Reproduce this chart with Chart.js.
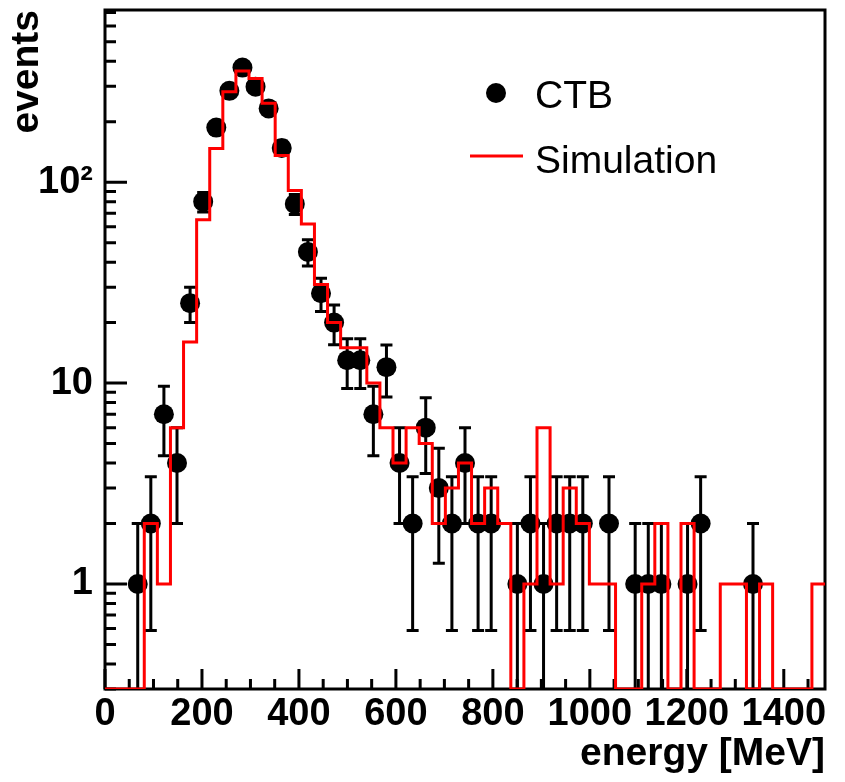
<!DOCTYPE html>
<html>
<head>
<meta charset="utf-8">
<script src="https://cdn.jsdelivr.net/npm/chart.js@4.4.1/dist/chart.umd.min.js"></script>
<style>
  html, body { margin: 0; padding: 0; background: #fff; }
  #wrap { width: 845px; height: 782px; }
</style>
</head>
<body>
<div id="wrap"><canvas id="energy" width="845" height="782"></canvas></div>
<script>
// 55 bins of 27 MeV each
const BIN_WIDTH = 27;
const X_MAX = 1485;
const Y_MIN = 0.3;
const Y_MAX = 720;

// CTB events per bin
const ctbCounts = [0,0,1,2,7,4,25,80,187,285,
                   372,299,233,148,78,45,28,20,13,13,
                   7,12,4,2,6,3,2,4,2,2,
                   0,1,2,1,2,2,2,0,2,0,
                   1,1,1,0,1,2,0,0,0,1,
                   0,0,0,0,0];
// simulated events per bin
const simCounts = [0,0,0,2,1,6,16,65,147,282,
                   358,328,247,136,91,62,31,20,15,15,
                   10,6,4,6,5,2,3,4,2,3,
                   2,0,1,6,1,3,2,1,1,0,
                   0,1,2,0,2,0,0,1,1,0,
                   1,0,0,0,1];

const xTicks = [0, 200, 400, 600, 800, 1000, 1200, 1400];
const yTicks = [1, 10, 100];
const yTickLabels = ['1', '10', '10²'];

const FONT = 'Liberation Sans';

// histogram outline: one point on each bin's left edge, plus the right edge
const simLine = simCounts.map((n, i) => ({x: i * BIN_WIDTH, y: n > 0 ? n : Y_MIN}));
simLine.push({x: X_MAX, y: simLine[simLine.length - 1].y});

const ctbPoints = [];
ctbCounts.forEach((n, i) => {
  if (n > 0) ctbPoints.push({x: (i + 0.5) * BIN_WIDTH, y: n});
});

// minor tick positions
const xMinor = [];
for (let v = 50; v < X_MAX; v += 50) if (v % 200 !== 0) xMinor.push(v);
const yMinor = [];
[0.1, 1, 10, 100].forEach(d => {
  for (let k = 2; k <= 9; k++) {
    const v = d * k;
    if (v > Y_MIN && v < Y_MAX) yMinor.push(v);
  }
});

const frameTicks = {
  id: 'frameTicks',
  beforeDatasetsDraw(chart) {
    const {ctx, chartArea: a, scales: {x, y}} = chart;
    ctx.save();
    ctx.strokeStyle = '#000';
    ctx.lineWidth = 3;
    ctx.strokeRect(a.left, a.top, a.right - a.left, a.bottom - a.top);
    ctx.beginPath();
    xTicks.forEach(v => {
      const px = x.getPixelForValue(v);
      ctx.moveTo(px, a.bottom); ctx.lineTo(px, a.bottom - 20);
    });
    xMinor.forEach(v => {
      const px = x.getPixelForValue(v);
      ctx.moveTo(px, a.bottom); ctx.lineTo(px, a.bottom - 10);
    });
    yTicks.forEach(v => {
      const py = y.getPixelForValue(v);
      ctx.moveTo(a.left, py); ctx.lineTo(a.left + 22, py);
    });
    yMinor.forEach(v => {
      const py = y.getPixelForValue(v);
      ctx.moveTo(a.left, py); ctx.lineTo(a.left + 11, py);
    });
    ctx.stroke();
    ctx.restore();
  }
};

const errorBars = {
  id: 'errorBars',
  beforeDatasetDraw(chart, args) {
    if (args.index !== 1) return;
    const {ctx, chartArea: a, scales: {x, y}} = chart;
    ctx.save();
    ctx.beginPath();
    ctx.rect(a.left, a.top, a.right - a.left, a.bottom - a.top);
    ctx.clip();
    ctx.strokeStyle = '#000';
    ctx.lineWidth = 3;
    ctx.beginPath();
    chart.data.datasets[1].data.forEach(p => {
      const err = Math.sqrt(p.y);
      const px = x.getPixelForValue(p.x);
      const yHi = y.getPixelForValue(p.y + err);
      const lo = p.y - err;
      const yLo = lo > 0 ? y.getPixelForValue(lo) : a.bottom + 20;
      ctx.moveTo(px, yHi); ctx.lineTo(px, yLo);
      ctx.moveTo(px - 6, yHi); ctx.lineTo(px + 6, yHi);
      if (lo > 0) { ctx.moveTo(px - 6, yLo); ctx.lineTo(px + 6, yLo); }
    });
    ctx.stroke();
    ctx.restore();
  }
};

const boxLegend = {
  id: 'boxLegend',
  afterDraw(chart) {
    const ctx = chart.ctx;
    const sets = chart.data.datasets;
    ctx.save();
    ctx.font = '39px "' + FONT + '"';
    ctx.fillStyle = '#000';
    ctx.textBaseline = 'alphabetic';
    ctx.beginPath();
    ctx.arc(496, 93, 10, 0, Math.PI * 2);
    ctx.fill();
    ctx.fillText(sets[1].label, 535, 108);
    ctx.strokeStyle = '#ff0000';
    ctx.lineWidth = 3;
    ctx.beginPath();
    ctx.moveTo(470, 156); ctx.lineTo(523, 156);
    ctx.stroke();
    ctx.fillText(sets[0].label, 535, 173);
    ctx.restore();
  }
};

new Chart(document.getElementById('energy'), {
  data: {
    datasets: [
      {
        type: 'line',
        label: 'Simulation',
        data: simLine,
        stepped: true,
        borderColor: '#ff0000',
        borderWidth: 3,
        pointRadius: 0,
        fill: false
      },
      {
        type: 'scatter',
        label: 'CTB',
        data: ctbPoints,
        pointRadius: 10,
        pointBorderWidth: 0,
        backgroundColor: '#000',
        borderColor: '#000'
      }
    ]
  },
  options: {
    responsive: false,
    animation: false,
    layout: {padding: {top: 7, right: 20, left: 0, bottom: 0}},
    plugins: {legend: {display: false}, tooltip: {enabled: false}},
    scales: {
      x: {
        type: 'linear',
        min: 0,
        max: X_MAX,
        grid: {display: false, drawTicks: false},
        border: {display: false},
        afterBuildTicks: s => { s.ticks = xTicks.map(v => ({value: v})); },
        afterFit: s => { s.height = 93; s.paddingLeft = 0; s.paddingRight = 0; },
        ticks: {
          autoSkip: false,
          maxRotation: 0,
          padding: 3,
          color: '#000',
          font: {family: FONT, weight: 'bold', size: 38},
          callback: v => String(v)
        },
        title: {
          display: true,
          text: 'energy [MeV]',
          align: 'end',
          color: '#000',
          font: {family: FONT, weight: 'bold', size: 39},
          padding: {top: 0, bottom: 4}
        }
      },
      y: {
        type: 'logarithmic',
        min: Y_MIN,
        max: Y_MAX,
        grid: {display: false, drawTicks: false},
        border: {display: false},
        afterBuildTicks: s => { s.ticks = yTicks.map(v => ({value: v})); },
        afterFit: s => { s.width = 105; s.paddingTop = 0; s.paddingBottom = 0; },
        ticks: {
          padding: 12,
          color: '#000',
          font: {family: FONT, weight: 'bold', size: 38},
          callback: (v, i) => yTickLabels[i]
        },
        title: {
          display: true,
          text: 'events',
          align: 'end',
          color: '#000',
          font: {family: FONT, weight: 'bold', size: 39},
          padding: {top: 4, bottom: 0}
        }
      }
    }
  },
  plugins: [frameTicks, errorBars, boxLegend]
});
</script>
</body>
</html>
